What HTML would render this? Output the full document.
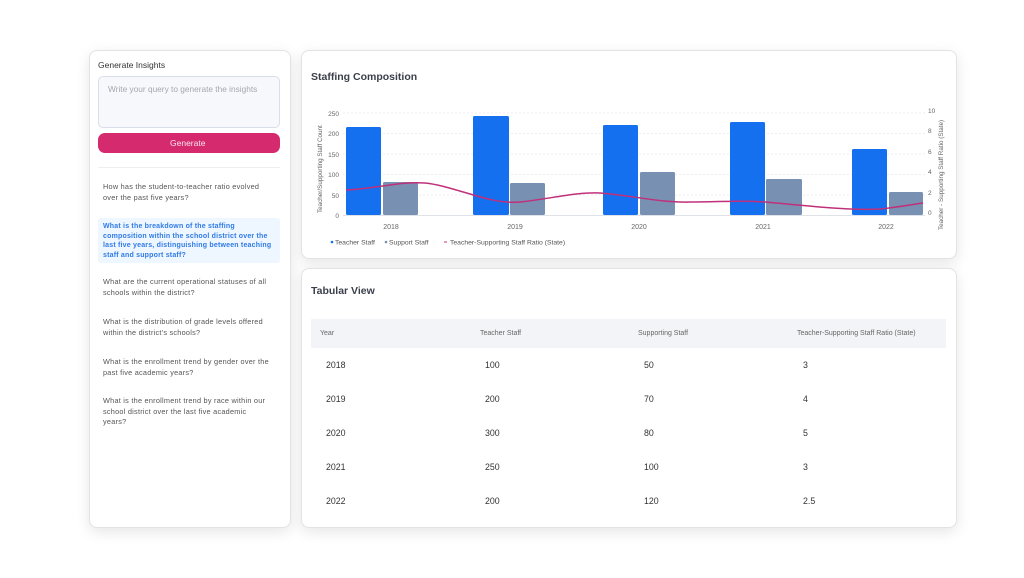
<!DOCTYPE html>
<html><head><meta charset="utf-8"><style>
*{margin:0;padding:0;box-sizing:border-box}
body{width:1024px;height:578px;background:#fff;position:relative;overflow:hidden;font-family:"Liberation Sans",sans-serif;color:#333}
.card{position:absolute;background:#fff;border:1px solid #e3e3e6;border-radius:8px;box-shadow:0 4px 14px rgba(0,0,0,0.10)}
.t{position:absolute;white-space:nowrap}
.q{position:absolute;left:103px;font-size:7.3px;line-height:10.5px;color:#555;width:178px;letter-spacing:0.25px}
.row{position:absolute;left:326px;font-size:8.8px;color:#333}
.row span{position:absolute;top:0;white-space:nowrap}
</style></head><body>
<div class="card" style="left:89px;top:50px;width:202px;height:478px"></div>
<div class="t" style="left:98px;top:60px;font-size:8.5px;color:#333">Generate Insights</div>
<div style="position:absolute;left:98px;top:76px;width:182px;height:52px;border:1px solid #d8deea;border-radius:5px;background:#f7f8fb"></div>
<div class="t" style="left:108px;top:84px;font-size:8.3px;color:#a3a7b0">Write your query to generate the insights</div>
<div style="position:absolute;left:98px;top:133px;width:182px;height:20px;border-radius:7px;background:#d52b6e"></div>
<div class="t" style="left:170px;top:138px;font-size:8.5px;color:#fbe4ee">Generate</div>
<div style="position:absolute;left:98px;top:167px;width:182px;height:1px;background:#eee"></div>
<div class="q" style="top:182px">How has the student-to-teacher ratio evolved<br>over the past five years?</div>
<div style="position:absolute;left:98px;top:218px;width:182px;height:45px;background:#eef6ff;border-radius:3px"></div>
<div class="q" style="top:222px;color:#2f7be6;font-weight:bold;font-size:7px;line-height:9.5px;letter-spacing:0.2px">What is the breakdown of the staffing<br>composition within the school district over the<br>last five years, distinguishing between teaching<br>staff and support staff?</div>
<div class="q" style="top:277px">What are the current operational statuses of all<br>schools within the district?</div>
<div class="q" style="top:317px">What is the distribution of grade levels offered<br>within the district's schools?</div>
<div class="q" style="top:357px">What is the enrollment trend by gender over the<br>past five academic years?</div>
<div class="q" style="top:396px">What is the enrollment trend by race within our<br>school district over the last five academic<br>years?</div>

<div class="card" style="left:301px;top:50px;width:656px;height:209px"></div>
<div class="t" style="left:311px;top:71px;font-size:10.5px;font-weight:bold;color:#3a3f4a">Staffing Composition</div>
<svg style="position:absolute;left:0;top:0" width="1024" height="578">
<g stroke="#e8e8ee" stroke-dasharray="2,2" stroke-width="0.7">
<line x1="343" x2="925" y1="113" y2="113"/><line x1="343" x2="925" y1="133.5" y2="133.5"/><line x1="343" x2="925" y1="154" y2="154"/><line x1="343" x2="925" y1="174.5" y2="174.5"/><line x1="343" x2="925" y1="195" y2="195"/></g>
<line x1="343" x2="925" y1="215.5" y2="215.5" stroke="#d5d8e0" stroke-width="0.8"/>
<g fill="#1570ef">
<rect x="346" y="127" width="35" height="88" rx="1.5"/><rect x="473" y="116" width="36" height="99" rx="1.5"/><rect x="603" y="125" width="35" height="90" rx="1.5"/><rect x="730" y="122" width="35" height="93" rx="1.5"/><rect x="852" y="149" width="35" height="66" rx="1.5"/></g>
<g fill="#7890b2">
<rect x="383" y="182" width="35" height="33" rx="1.5"/><rect x="510" y="183" width="35" height="32" rx="1.5"/><rect x="640" y="172" width="35" height="43" rx="1.5"/><rect x="766" y="179" width="36" height="36" rx="1.5"/><rect x="889" y="192" width="34" height="23" rx="1.5"/></g>
<path d="M346 190 C375 189,400 181,425 183 C455 186,490 205,520 202 C550 199,575 192,600 193 C630 195,660 203,690 202 C720 202,740 200,765 202 C800 205,850 211,880 209 C900 207,915 204,923 203" fill="none" stroke="#c0307a" stroke-width="1.5"/>
<g font-size="6.5" fill="#666" text-anchor="end" font-family="Liberation Sans">
<text x="339" y="116">250</text><text x="339" y="136">200</text><text x="339" y="157">150</text><text x="339" y="177">100</text><text x="339" y="198">50</text><text x="339" y="218">0</text></g>
<g font-size="6.5" fill="#666" font-family="Liberation Sans">
<text x="928" y="113">10</text><text x="928" y="133">8</text><text x="928" y="154">6</text><text x="928" y="174">4</text><text x="928" y="195">2</text><text x="928" y="215">0</text></g>
<g font-size="7" fill="#666" text-anchor="middle" font-family="Liberation Sans">
<text x="391" y="229">2018</text><text x="515" y="229">2019</text><text x="639" y="229">2020</text><text x="763" y="229">2021</text><text x="886" y="229">2022</text></g>
<text transform="translate(322,213) rotate(-90)" font-size="6.3" fill="#666" font-family="Liberation Sans">Teacher/Supporting Staff Count</text>
<text transform="translate(943,230) rotate(-90)" font-size="6.3" fill="#666" font-family="Liberation Sans">Teacher - Supporting Staff Ratio (State)</text>
<g font-size="6.8" fill="#555" font-family="Liberation Sans">
<circle cx="332" cy="242" r="1.3" fill="#1570ef"/><text x="335" y="244.5">Teacher Staff</text>
<circle cx="386" cy="242" r="1.3" fill="#7890b2"/><text x="389" y="244.5">Support Staff</text>
<line x1="444" x2="447" y1="242" y2="242" stroke="#c0307a"/><text x="450" y="244.5">Teacher-Supporting Staff Ratio (State)</text></g>
</svg>

<div class="card" style="left:301px;top:268px;width:656px;height:260px"></div>
<div class="t" style="left:311px;top:285px;font-size:10.5px;font-weight:bold;color:#3a3f4a">Tabular View</div>
<div style="position:absolute;left:311px;top:319px;width:635px;height:29px;background:#f3f4f7"></div>
<div class="row" style="top:330px;left:320px;font-size:7px;color:#666"><span style="left:0">Year</span><span style="left:160px">Teacher Staff</span><span style="left:318px">Supporting Staff</span><span style="left:477px">Teacher-Supporting Staff Ratio (State)</span></div>
<div class="row" style="top:360px"><span style="left:0">2018</span><span style="left:159px">100</span><span style="left:318px">50</span><span style="left:477px">3</span></div>
<div class="row" style="top:394px"><span style="left:0">2019</span><span style="left:159px">200</span><span style="left:318px">70</span><span style="left:477px">4</span></div>
<div class="row" style="top:428px"><span style="left:0">2020</span><span style="left:159px">300</span><span style="left:318px">80</span><span style="left:477px">5</span></div>
<div class="row" style="top:462px"><span style="left:0">2021</span><span style="left:159px">250</span><span style="left:318px">100</span><span style="left:477px">3</span></div>
<div class="row" style="top:496px"><span style="left:0">2022</span><span style="left:159px">200</span><span style="left:318px">120</span><span style="left:477px">2.5</span></div>
</body></html>
